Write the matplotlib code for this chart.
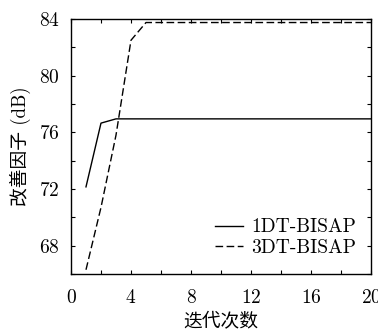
import matplotlib
matplotlib.use("Agg")
import matplotlib.pyplot as plt
from matplotlib.ticker import MultipleLocator

plt.rcParams['font.family'] = ['cmr10', 'Noto Sans CJK SC', 'DejaVu Sans']
plt.rcParams['axes.unicode_minus'] = False
plt.rcParams['axes.formatter.use_mathtext'] = True

iterations = list(range(1, 21))
series_1dt = [72.15, 76.65, 76.95] + [76.95] * 17
series_3dt = [66.3, 70.7, 75.8, 82.5, 83.75] + [83.75] * 15
label_1dt = "1DT-BISAP"
label_3dt = "3DT-BISAP"
xlabel = "迭代次数"
ylabel = "改善因子 (dB)"
xticks = [0, 4, 8, 12, 16, 20]
yticks = [68, 72, 76, 80, 84]

fig = plt.figure(figsize=(3.78, 3.32), dpi=100)
ax = fig.add_axes([0.1878, 0.1747, 0.9815 - 0.1878, 0.9428 - 0.1747])

ax.plot(iterations, series_1dt, color='black', lw=1.0, label=label_1dt)
ax.plot(iterations, series_3dt, color='black', lw=1.0, dashes=(5.5, 2.5), label=label_3dt)

ax.set_xlim(0, 20)
ax.set_ylim(66, 84)
ax.set_xticks(xticks)
ax.set_yticks(yticks)
ax.xaxis.set_minor_locator(MultipleLocator(2))
ax.yaxis.set_minor_locator(MultipleLocator(2))
ax.tick_params(which='both', direction='in', top=True, right=True, length=3, width=0.8)
ax.tick_params(axis='x', which='major', labelsize=14, pad=10.5)
ax.tick_params(axis='y', which='major', labelsize=14, pad=8)
for s in ax.spines.values():
    s.set_linewidth(1.0)

ax.set_xlabel(xlabel, fontsize=13.5, labelpad=5)
ax.set_ylabel(ylabel, fontsize=13.5, labelpad=6)

ax.legend(loc='lower right', bbox_to_anchor=(0.95, 0.068), frameon=False,
          fontsize=14, handlelength=1.45, handletextpad=0.41,
          borderaxespad=0, borderpad=0, labelspacing=0.12)

fig.savefig("out.png", dpi=100)
